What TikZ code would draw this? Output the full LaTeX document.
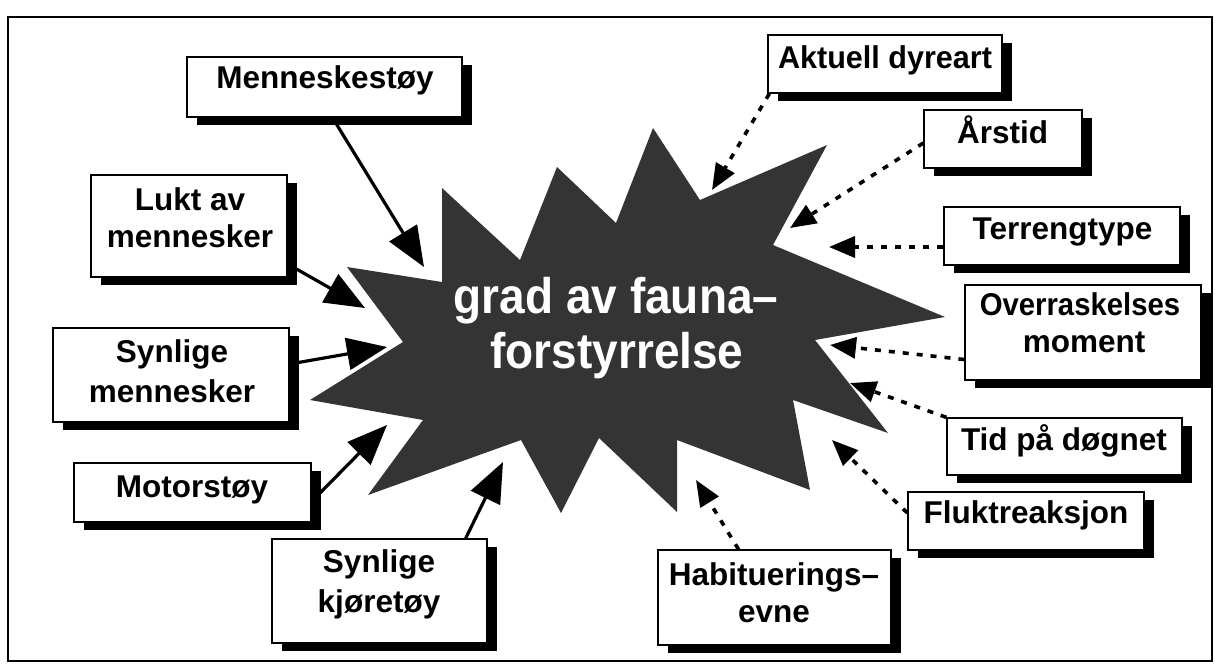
\documentclass[tikz,border=0pt]{standalone}
\usepackage{fontspec}
\usepackage{graphicx}
\setmainfont{Liberation Sans}
\usetikzlibrary{arrows.meta,shadows,backgrounds}
\definecolor{starfill}{RGB}{52,52,52}
\begin{document}
\begin{tikzpicture}[x=1pt,y=-1pt,
  boxst/.style={draw=black, line width=1.3pt, fill=white, inner sep=0pt,
    drop shadow={shadow xshift=10pt, shadow yshift=-8pt, opacity=1, fill=black}},
  lbl/.style={font=\fontsize{31.5}{36}\selectfont\bfseries, inner sep=0pt, anchor=base},
  biglbl/.style={font=\fontsize{50}{55}\selectfont\bfseries, text=white, inner sep=0pt, anchor=base},
  solidarr/.style={line width=3.2pt, -{Triangle[length=40pt,width=32pt]}},
  dotarr/.style={line width=3.6pt, dash pattern=on 6pt off 8pt, -{Triangle[length=26pt,width=21pt]}},
]
\useasboundingbox (0,0) rectangle (1215,664);
\draw[line width=1.4pt] (8,17) rectangle (1212,661);

% boxes
\node[boxst, minimum width=275pt, minimum height=60pt] (mst) at (324.5,87) {};
\node[boxst, minimum width=196pt, minimum height=102pt] (lukt) at (189,226) {};
\node[boxst, minimum width=236pt, minimum height=94pt] (smn) at (171,375) {};
\node[boxst, minimum width=237pt, minimum height=59pt] (mot) at (192.5,492.5) {};
\node[boxst, minimum width=215pt, minimum height=104pt] (skj) at (379.5,591) {};
\node[boxst, minimum width=234pt, minimum height=58pt] (akt) at (885,64) {};
\node[boxst, minimum width=158pt, minimum height=58pt] (ars) at (1003,139) {};
\node[boxst, minimum width=236pt, minimum height=58pt] (ter) at (1062,236) {};
\node[boxst, minimum width=236pt, minimum height=95pt] (ove) at (1083,332.5) {};
\node[boxst, minimum width=235pt, minimum height=57pt] (tid) at (1064.5,446.5) {};
\node[boxst, minimum width=236pt, minimum height=58pt] (flu) at (1026,521) {};
\node[boxst, minimum width=233pt, minimum height=95pt] (hab) at (774.5,597.5) {};

% labels
\node[lbl] (tmst) at (325,88) {Menneskestøy};
\node[lbl] (tlukt1) at (190,210) {Lukt av};
\node[lbl] (tlukt2) at (190,247) {mennesker};
\node[lbl] (tsmn1) at (172,362) {Synlige};
\node[lbl] (tsmn2) at (172,402) {mennesker};
\node[lbl] (tmot) at (192,497) {Motorstøy};
\node[lbl] (tskj1) at (379,572) {Synlige};
\node[lbl] (tskj2) at (379,612) {kjøretøy};
\node[lbl] (takt) at (885,68) {\scalebox{0.97}[1]{Aktuell dyreart}};
\node[lbl] (tars) at (1002.5,143) {Årstid};
\node[lbl] (tter) at (1062.5,239) {Terrengtype};
\node[lbl] (tove1) at (1080,315) {\scalebox{0.93}[1]{Overraskelses}};
\node[lbl] (tove2) at (1084,352) {moment};
\node[lbl] (ttid) at (1064,450) {Tid på døgnet};
\node[lbl] (tflu) at (1026,523) {Fluktreaksjon};
\node[lbl] (thab1) at (774,585) {Habituerings–};
\node[lbl] (thab2) at (774,622) {evne};

% arrow tips
\coordinate (h1) at (424,267);
\coordinate (h2) at (365,308);
\coordinate (h3) at (387,347);
\coordinate (h4) at (387,425);
\coordinate (h5) at (503,462);
\coordinate (h6) at (712,190);
\coordinate (h7) at (790,228);
\coordinate (h8) at (829,247);
\coordinate (h9) at (830,345);
\coordinate (h10) at (850,383);
\coordinate (h11) at (832,440);
\coordinate (h12) at (696,480);

\begin{pgfonlayer}{background}
\fill[starfill] (442,188) -- (520,260) -- (557,167) -- (616,223) -- (653,128) -- (700,200)
  -- (827,145) -- (773,245) -- (945,317) -- (815,340) -- (888,433) -- (793,400)
  -- (810,490) -- (677,440) -- (677,512) -- (599,438) -- (561,513) -- (521,440)
  -- (368,495) -- (423,420) -- (310,400) -- (403,342) -- (347,267) -- (442,282) -- cycle;

\draw[solidarr] ([xshift=8pt]mst.south) -- (h1);
\draw[solidarr] ([yshift=-38pt]lukt.east) -- (h2);
\draw[solidarr] ([yshift=11pt]smn.east) -- (h3);
\draw[solidarr] ([yshift=-9pt]mot.east) -- (h4);
\draw[solidarr] ([xshift=-22pt]skj.north east) -- (h5);

\draw[dotarr] ([xshift=2pt]akt.south west) -- (h6);
\draw[dotarr] ([yshift=-4pt]ars.west) -- (h7);
\draw[dotarr] ([yshift=-11pt]ter.west) -- (h8);
\draw[dotarr] ([yshift=-27pt]ove.west) -- (h9);
\draw[dotarr] (tid.north west) -- (h10);
\draw[dotarr] ([yshift=8pt]flu.west) -- (h11);
\draw[dotarr] ([xshift=-36pt]hab.north) -- (h12);
\end{pgfonlayer}

\node[biglbl] (c1) at (616,313) {\scalebox{0.92}[1]{grad av fauna–}};
\node[biglbl] (c2) at (617,368) {\scalebox{0.92}[1]{forstyrrelse}};
\end{tikzpicture}
\end{document}
